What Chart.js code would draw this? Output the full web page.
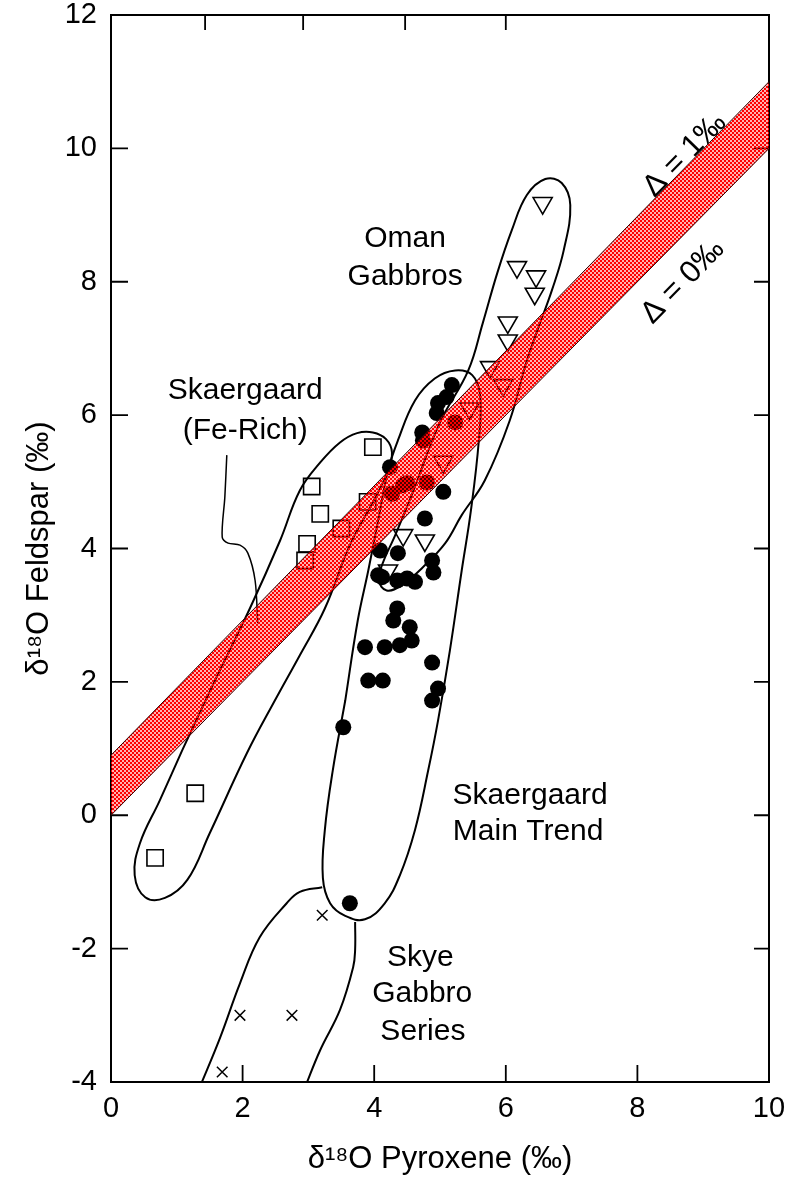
<!DOCTYPE html>
<html>
<head>
<meta charset="utf-8">
<title>δ18O Feldspar vs Pyroxene</title>
<script src="https://cdn.jsdelivr.net/npm/chart.js@4.4.1/dist/chart.umd.min.js"></script>
<style>
  html, body { margin: 0; padding: 0; background: #fff; }
  #wrap { width: 793px; height: 1182px; }
</style>
</head>
<body>
<div id="wrap"><canvas id="c" width="793" height="1182"></canvas></div>
<script>
// Axis ranges and ticks
const xTicks = [0, 2, 4, 6, 8, 10];
const yTicks = [-4, -2, 0, 2, 4, 6, 8, 10, 12];
const topAxisTicks = [1.43, 2.92, 4.47, 6.0];

// Equilibrium band: Δ = 0‰ (lower) and Δ = 1‰ (upper) lines
const bandX = [0, 10];
const bandLower = [0, 10];
const bandUpper = [0.9, 11.0];

// Skaergaard main trend (filled circles)
const mainTrendX = [5.18, 5.10, 4.97, 4.95, 5.23, 4.73, 4.74, 4.24, 4.80, 4.50, 4.44, 5.05, 4.27, 4.77, 4.09, 4.36, 4.88, 4.90, 4.12, 4.35, 4.50, 4.62, 4.06, 4.35, 4.29, 4.54, 4.57, 4.39, 3.86, 4.16, 4.88, 3.91, 4.13, 4.97, 4.88, 3.53, 3.63];
const mainTrendY = [6.45, 6.27, 6.18, 6.03, 5.89, 5.74, 5.62, 5.22, 4.99, 4.98, 4.95, 4.85, 4.82, 4.45, 3.97, 3.93, 3.82, 3.64, 3.57, 3.52, 3.55, 3.50, 3.60, 3.10, 2.92, 2.82, 2.62, 2.55, 2.52, 2.52, 2.29, 2.02, 2.02, 1.90, 1.72, 1.32, -1.32];

// Skaergaard Fe-rich (open squares)
const feRichX = [0.67, 1.28, 2.95, 2.98, 3.05, 3.18, 3.50, 3.90, 3.98];
const feRichY = [-0.64, 0.33, 3.82, 4.07, 4.93, 4.52, 4.30, 4.70, 5.52];

// Oman gabbros (open inverted triangles)
const omanX = [6.56, 6.17, 6.46, 6.44, 6.03, 6.03, 5.76, 5.96, 5.45, 5.05, 4.44, 4.77, 4.21];
const omanY = [9.18, 8.22, 8.08, 7.82, 7.39, 7.12, 6.72, 6.45, 6.10, 5.30, 4.20, 4.12, 3.67];

// Skye gabbro series (crosses)
const skyeX = [3.21, 1.96, 2.75, 1.69];
const skyeY = [-1.50, -3.00, -3.00, -3.85];

// Field outlines, as [x, y] pairs in per-mil
const feRichField = [[1.08,0.97],[1.58,2.02],[2.11,3.10],[2.57,4.12],[2.87,4.87],[3.18,5.29],[3.48,5.59],[3.74,5.73],[3.98,5.74],[4.18,5.64],[4.27,5.44],[4.21,5.17],[4.01,4.75],[3.63,4.05],[3.25,3.10],[2.87,2.40],[2.49,1.72],[2.07,0.94],[1.50,-0.27],[1.16,-0.97],[0.82,-1.24],[0.52,-1.23],[0.36,-0.90],[0.44,-0.42],[0.74,0.22],[1.08,0.97]];
const mainTrendField = [[3.56,1.72],[3.75,2.92],[3.91,3.67],[4.06,4.42],[4.21,5.17],[4.36,5.62],[4.62,6.22],[4.92,6.55],[5.23,6.67],[5.49,6.60],[5.61,6.30],[5.59,5.62],[5.47,4.57],[5.33,3.67],[5.15,2.47],[4.97,1.42],[4.82,0.67],[4.62,-0.22],[4.39,-0.90],[4.16,-1.32],[3.86,-1.56],[3.56,-1.51],[3.33,-1.32],[3.22,-0.94],[3.25,-0.22],[3.37,0.67],[3.56,1.72]];
const omanField = [[6.52,7.38],[6.32,6.82],[6.06,5.92],[5.68,5.02],[5.33,4.50],[5.08,4.08],[4.74,3.72],[4.42,3.45],[4.19,3.37],[4.07,3.52],[4.13,3.78],[4.32,4.20],[4.57,4.80],[5.00,5.89],[5.43,6.67],[5.65,7.38],[5.87,8.13],[6.09,8.77],[6.32,9.30],[6.60,9.54],[6.85,9.48],[6.98,9.15],[6.88,8.47],[6.70,7.87],[6.52,7.38]];
const skyeFieldLeft = [[1.34,-4.1],[1.66,-3.33],[1.96,-2.52],[2.26,-1.83],[2.67,-1.32],[2.87,-1.15],[3.21,-1.08]];
const skyeFieldRight = [[3.71,-1.60],[3.71,-2.02],[3.68,-2.28],[3.48,-2.92],[3.18,-3.52],[2.94,-4.1]];
const feRichLeader = [[1.76,5.40],[1.73,4.77],[1.69,4.17],[1.78,4.08],[1.96,4.05],[2.08,3.93],[2.19,3.52],[2.23,2.88]];

const FONT = "'Liberation Sans', Arial, Helvetica, sans-serif";
Chart.defaults.font.family = FONT;
Chart.defaults.color = '#000';

const toPts = (xs, ys) => xs.map((v, i) => ({x: v, y: ys[i]}));
const pairPts = arr => arr.map(p => ({x: p[0], y: p[1]}));

// Red screen-tone for the Δ band: solid red cells over a light red wash
function checker() {
  const c = document.createElement('canvas');
  c.width = 4; c.height = 4;
  const g = c.getContext('2d');
  g.fillStyle = 'rgba(255,0,0,0.3)';
  g.fillRect(0, 0, 4, 4);
  g.fillStyle = '#ff0000';
  g.fillRect(0, 0, 2, 2);
  g.fillRect(2, 2, 2, 2);
  return g.createPattern(c, 'repeat');
}

function outline(pts, width) {
  return {
    data: pairPts(pts), showLine: true, borderColor: '#000', borderWidth: width || 2,
    pointRadius: 0, pointHoverRadius: 0, tension: 0.4, fill: false, order: 5
  };
}

// Box around the plot with inward ticks
const frame = {
  id: 'frame',
  beforeDatasetsDraw(chart) {
    const {ctx, chartArea: a, scales: {x, y}} = chart;
    ctx.save();
    ctx.strokeStyle = '#000';
    ctx.lineWidth = 2;
    ctx.strokeRect(a.left, a.top, a.right - a.left, a.bottom - a.top);
    ctx.lineWidth = 1.8;
    ctx.beginPath();
    x.ticks.forEach(t => {
      const px = x.getPixelForValue(t.value);
      ctx.moveTo(px, a.bottom); ctx.lineTo(px, a.bottom - 17);
    });
    y.ticks.forEach(t => {
      const py = y.getPixelForValue(t.value);
      ctx.moveTo(a.left, py); ctx.lineTo(a.left + 17, py);
      ctx.moveTo(a.right, py); ctx.lineTo(a.right - 15, py);
    });
    topAxisTicks.forEach(v => {
      const px = x.getPixelForValue(v);
      ctx.moveTo(px, a.top); ctx.lineTo(px, a.top + 15);
    });
    ctx.stroke();
    ctx.restore();
  }
};

// Field names and band labels
const notes = {
  id: 'notes',
  afterDatasetsDraw(chart) {
    const {ctx, scales: {x, y}} = chart;
    ctx.save();
    ctx.fillStyle = '#000';
    ctx.textAlign = 'center';
    ctx.textBaseline = 'middle';
    ctx.font = '30px ' + FONT;
    const put = (s, vx, vy) => ctx.fillText(s, x.getPixelForValue(vx), y.getPixelForValue(vy));
    put('Oman', 4.47, 8.65);
    put('Gabbros', 4.47, 8.07);
    put('Skaergaard', 2.04, 6.36);
    put('(Fe-Rich)', 2.04, 5.77);
    put('Skaergaard', 6.37, 0.30);
    put('Main Trend', 6.34, -0.25);
    put('Skye', 4.70, -2.13);
    put('Gabbro', 4.73, -2.68);
    put('Series', 4.74, -3.25);
    const ang = Math.atan2(y.getPixelForValue(bandUpper[1]) - y.getPixelForValue(bandUpper[0]),
                           x.getPixelForValue(bandX[1]) - x.getPixelForValue(bandX[0]));
    const rot = (s, vx, vy) => {
      ctx.save();
      ctx.translate(x.getPixelForValue(vx), y.getPixelForValue(vy));
      ctx.rotate(ang);
      ctx.fillText(s, 0, 0);
      ctx.restore();
    };
    ctx.font = '31px ' + FONT;
    rot('Δ = 1‰', 8.72, 9.90);
    rot('Δ = 0‰', 8.69, 8.00);
    ctx.restore();
  }
};

const band = checker();

new Chart(document.getElementById('c'), {
  type: 'scatter',
  data: {
    datasets: [
      { // Δ = 1‰ edge, filled down to Δ = 0‰
        data: toPts(bandX, bandUpper), showLine: true, borderColor: '#300', borderWidth: 1,
        backgroundColor: band, fill: 1, pointRadius: 0, tension: 0, order: 1
      },
      { // Δ = 0‰ edge
        data: toPts(bandX, bandLower), showLine: true, borderColor: '#300', borderWidth: 1,
        pointRadius: 0, tension: 0, fill: false, order: 0
      },
      { data: toPts(mainTrendX, mainTrendY), pointStyle: 'circle', pointRadius: 8,
        backgroundColor: '#000', borderColor: '#000', borderWidth: 0, order: 3 },
      { data: toPts(feRichX, feRichY), pointStyle: 'rect', pointRadius: 11.5,
        backgroundColor: 'rgba(0,0,0,0)', borderColor: '#000', borderWidth: 1.6, order: 3 },
      { data: toPts(omanX, omanY), pointStyle: 'triangle', rotation: 180, pointRadius: 11,
        backgroundColor: 'rgba(0,0,0,0)', borderColor: '#000', borderWidth: 1.6, order: 3 },
      { data: toPts(skyeX, skyeY), pointStyle: 'crossRot', pointRadius: 7.5,
        borderColor: '#000', borderWidth: 1.5, order: 3 },
      outline(feRichField),
      outline(mainTrendField),
      outline(omanField),
      outline(skyeFieldLeft),
      outline(skyeFieldRight),
      Object.assign(outline(feRichLeader, 1.5), {tension: 0.3})
    ]
  },
  options: {
    responsive: false,
    animation: false,
    events: [],
    layout: { padding: { top: 15, right: 24, left: 0, bottom: 0 } },
    plugins: { legend: { display: false }, tooltip: { enabled: false } },
    scales: {
      x: {
        type: 'linear', min: 0, max: 10,
        afterBuildTicks: s => { s.ticks = xTicks.map(v => ({value: v})); },
        afterFit: s => { s.height = 100; s.paddingLeft = 0; s.paddingRight = 0; },
        grid: { display: false, drawTicks: false },
        border: { display: false },
        ticks: { font: { size: 29 }, padding: 10, maxRotation: 0 },
        title: { display: true, text: 'δ¹⁸O Pyroxene (‰)', font: { size: 31 }, padding: { top: 0, bottom: 4 } }
      },
      y: {
        type: 'linear', min: -4, max: 12,
        afterBuildTicks: s => { s.ticks = yTicks.map(v => ({value: v})); },
        afterFit: s => { s.width = 111; s.paddingTop = 0; s.paddingBottom = 0; },
        grid: { display: false, drawTicks: false },
        border: { display: false },
        ticks: { font: { size: 29 }, padding: 14 },
        title: { display: true, text: 'δ¹⁸O Feldspar (‰)', font: { size: 31 }, padding: { top: 21, bottom: 0 } }
      }
    }
  },
  plugins: [frame, notes]
});
</script>
</body>
</html>
